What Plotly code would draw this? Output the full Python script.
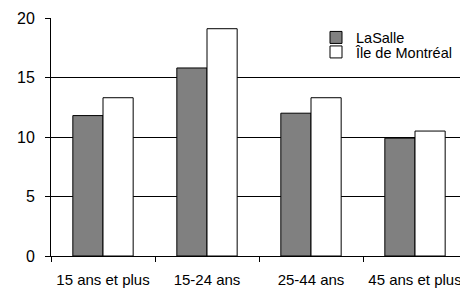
import plotly.graph_objects as go

categories = ["15 ans et plus", "15-24 ans", "25-44 ans", "45 ans et plus"]
lasalle = [11.8, 15.8, 12.0, 9.9]
montreal = [13.3, 19.1, 13.3, 10.5]
series_names = ["LaSalle", "Île de Montréal"]
y_ticks = [0, 5, 10, 15, 20]

font_family = "Liberation Sans, Arial, sans-serif"
W, H = 468, 293
ML, MR, MT, MB = 43, 9, 10, 45
PW, PH = W - ML - MR, H - MT - MB

fig = go.Figure()
fig.add_trace(go.Bar(
    x=categories, y=lasalle, name=series_names[0], legend="legend",
    marker=dict(color="#808080", line=dict(color="#000000", width=1)),
))
fig.add_trace(go.Bar(
    x=categories, y=montreal, name=series_names[1], legend="legend2",
    marker=dict(color="#ffffff", line=dict(color="#000000", width=1)),
))

legend_style = dict(
    xref="paper", yref="paper", xanchor="left", yanchor="top",
    bgcolor="rgba(0,0,0,0)", borderwidth=0, itemwidth=30,
    font=dict(family=font_family, size=14.5, color="#000000"),
)

fig.update_layout(
    width=W, height=H,
    margin=dict(l=ML, r=MR, t=MT, b=MB, autoexpand=False),
    paper_bgcolor="white", plot_bgcolor="white",
    barmode="group", bargap=0.42, bargroupgap=0,
    font=dict(family=font_family, size=15, color="#000000"),
    showlegend=True,
    legend=dict(x=(308 - ML) / PW, y=1 - (13.5 - MT) / PH, **legend_style),
    legend2=dict(x=(308 - ML) / PW, y=1 - (28 - MT) / PH, **legend_style),
)

fig.update_xaxes(
    showline=True, linecolor="#000000", linewidth=1,
    ticks="outside", ticklen=5, tickcolor="#000000", tickson="boundaries",
    showgrid=False, mirror=False, tickangle=0,
    tickfont=dict(family=font_family, size=15, color="#000000"),
    ticklabelstandoff=10,
)
fig.update_yaxes(
    range=[0, 20], tickvals=y_ticks,
    showline=True, linecolor="#000000", linewidth=1,
    ticks="outside", ticklen=5, tickcolor="#000000",
    showgrid=True, gridcolor="#000000", gridwidth=1,
    zeroline=False,
    tickfont=dict(family=font_family, size=16, color="#000000"),
    ticklabelstandoff=7,
)

fig.write_html("out.html")
